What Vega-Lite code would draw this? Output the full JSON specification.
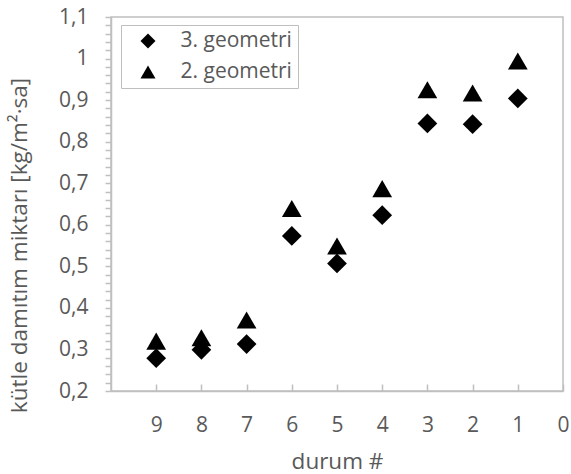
{
  "$schema": "https://vega.github.io/schema/vega-lite/v6.json",
  "width": 452,
  "height": 374,
  "autosize": {"type": "none"},
  "padding": {"left": 111, "top": 17, "right": 8, "bottom": 83},
  "background": "white",
  "config": {
    "font": "Open Sans",
    "view": {"stroke": "#bfbfbf", "strokeWidth": 1.5},
    "axis": {"grid": false, "labelColor": "#595959", "titleColor": "#595959", "labelFontSize": 21, "titleFontSize": 22.5, "titleFontWeight": "normal", "domainColor": "#bfbfbf", "tickColor": "#bfbfbf", "domainWidth": 1.5, "tickWidth": 1.5}
  },
  "data": {
    "values": [
      {"durum": 9, "geometri": "3. geometri", "deger": 0.279},
      {"durum": 8, "geometri": "3. geometri", "deger": 0.299},
      {"durum": 7, "geometri": "3. geometri", "deger": 0.313},
      {"durum": 6, "geometri": "3. geometri", "deger": 0.573},
      {"durum": 5, "geometri": "3. geometri", "deger": 0.507},
      {"durum": 4, "geometri": "3. geometri", "deger": 0.623},
      {"durum": 3, "geometri": "3. geometri", "deger": 0.844},
      {"durum": 2, "geometri": "3. geometri", "deger": 0.842},
      {"durum": 1, "geometri": "3. geometri", "deger": 0.904},
      {"durum": 9, "geometri": "2. geometri", "deger": 0.320},
      {"durum": 8, "geometri": "2. geometri", "deger": 0.328},
      {"durum": 7, "geometri": "2. geometri", "deger": 0.371},
      {"durum": 6, "geometri": "2. geometri", "deger": 0.639},
      {"durum": 5, "geometri": "2. geometri", "deger": 0.549},
      {"durum": 4, "geometri": "2. geometri", "deger": 0.687},
      {"durum": 3, "geometri": "2. geometri", "deger": 0.925},
      {"durum": 2, "geometri": "2. geometri", "deger": 0.917},
      {"durum": 1, "geometri": "2. geometri", "deger": 0.994}
    ]
  },
  "mark": {"type": "point", "filled": true, "opacity": 1, "size": 390},
  "encoding": {
    "x": {
      "field": "durum", "type": "quantitative",
      "scale": {"domain": [0, 10], "reverse": true, "nice": false, "zero": false},
      "axis": {"values": [0, 1, 2, 3, 4, 5, 6, 7, 8, 9], "tickSize": -7, "labelPadding": 30, "title": "durum #", "titleY": 70, "titleBaseline": "middle", "labelFlush": false}
    },
    "y": {
      "field": "deger", "type": "quantitative",
      "scale": {"domain": [0.2, 1.1], "nice": false, "zero": false},
      "axis": {
        "values": [0.2, 0.22, 0.24, 0.26, 0.28, 0.3, 0.32, 0.34, 0.36, 0.38, 0.4, 0.42, 0.44, 0.46, 0.48, 0.5, 0.52, 0.54, 0.56, 0.58, 0.6, 0.62, 0.64, 0.66, 0.68, 0.7, 0.72, 0.74, 0.76, 0.78, 0.8, 0.82, 0.84, 0.86, 0.88, 0.9, 0.92, 0.94, 0.96, 0.98, 1.0, 1.02, 1.04, 1.06, 1.08, 1.1],
        "labelExpr": "abs(datum.value * 10 - round(datum.value * 10)) < 0.001 ? replace(format(datum.value, '.1~f'), '.', ',') : ''",
        "tickSize": 6, "labelPadding": 17, "labelFlush": false, "labelOverlap": false,
        "title": "kütle damıtım miktarı [kg/m²·sa]",
        "titleX": -92, "titleY": 228, "titleAngle": -90, "titleAlign": "center", "titleBaseline": "middle"
      }
    },
    "shape": {
      "field": "geometri", "type": "nominal",
      "scale": {"domain": ["3. geometri", "2. geometri"], "range": ["diamond", "triangle-up"]},
      "legend": {
        "title": null, "orient": "none", "legendX": 10, "legendY": 8,
        "strokeColor": "#bfbfbf", "fillColor": "white", "padding": 5.5,
        "symbolOffset": 11, "symbolSize": 225, "symbolFillColor": "black", "symbolStrokeColor": "black", "symbolStrokeWidth": 0,
        "labelFontSize": 21, "labelColor": "#595959", "labelOffset": 22, "rowPadding": 9
      }
    },
    "color": {"value": "black"}
  }
}
